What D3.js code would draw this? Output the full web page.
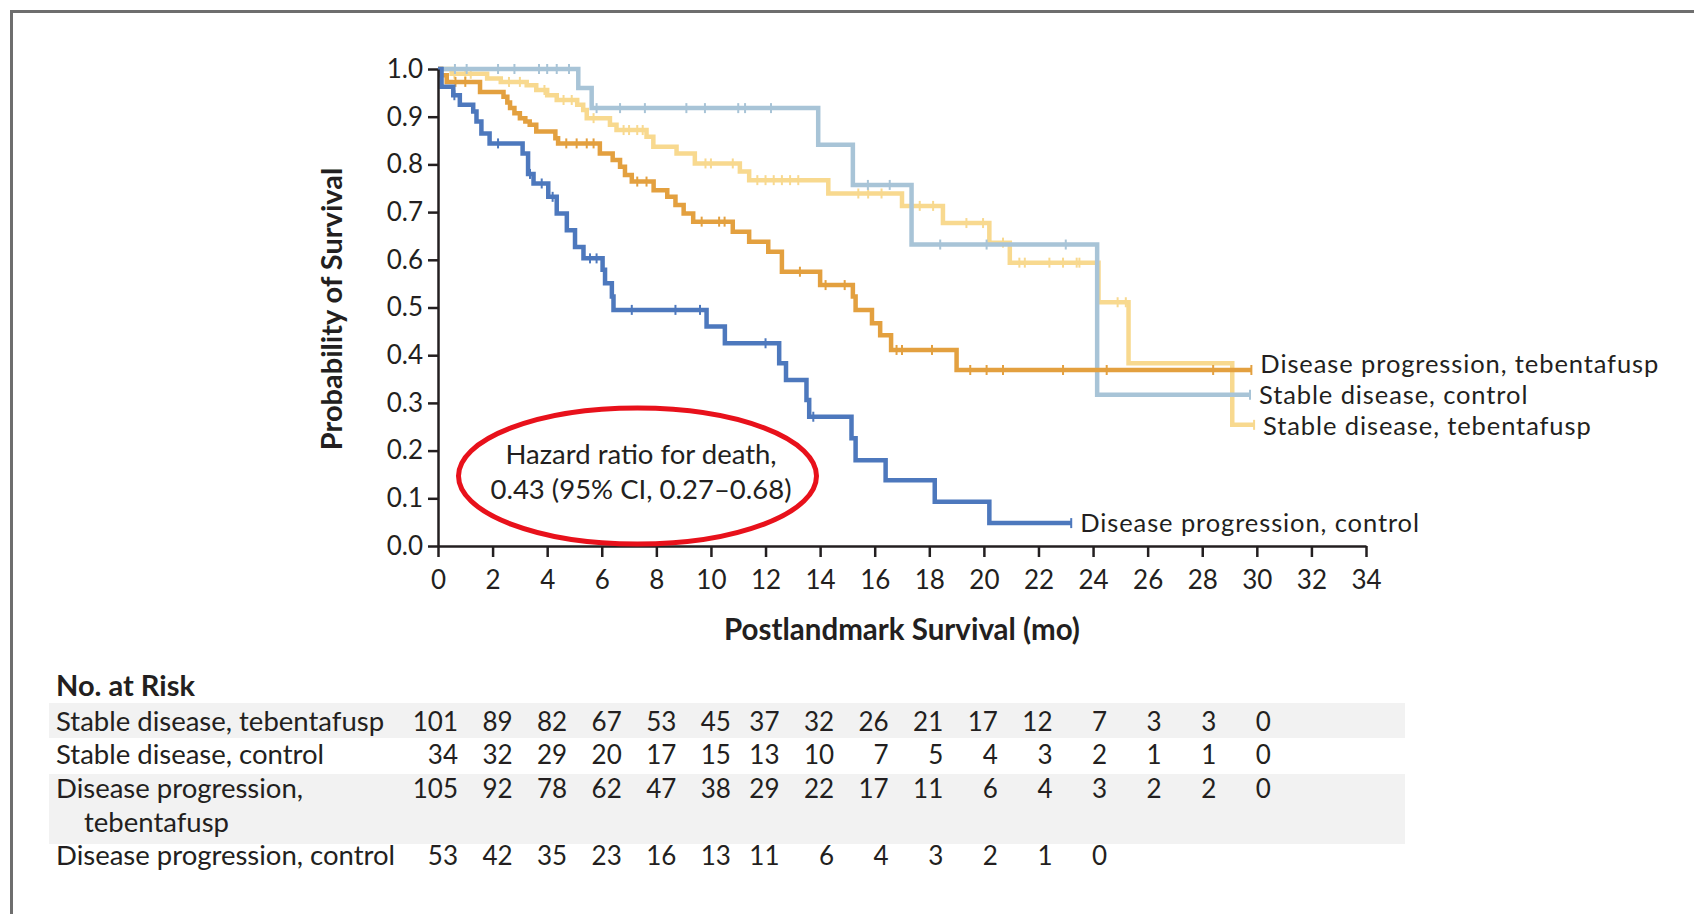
<!DOCTYPE html>
<html>
<head>
<meta charset="utf-8">
<script src="https://cdn.jsdelivr.net/npm/d3@7"></script>
<style>
  body { margin: 0; background: #fff; }
  svg text { font-family: Lato, "Open Sans", sans-serif; fill: #231f20; }
</style>
</head>
<body>
<svg id="chart" width="1694" height="914"></svg>
<script>
// ! Data
// step times (mo) and survival after each step, plus last follow-up and censor times
var sdTebTimes = [0, 0.5, 1.8, 2.3, 3.25, 3.6, 4.0, 4.35, 5.1, 5.32, 5.45, 6.3, 6.54, 7.64, 7.89, 8.74, 9.41, 11.06, 11.4, 14.3, 17.0, 18.5, 20.2, 20.95, 24.2, 25.3, 29.1];
var sdTebSurv  = [1.0, 0.99, 0.98, 0.973, 0.966, 0.956, 0.945, 0.935, 0.925, 0.914, 0.897, 0.883, 0.872, 0.858, 0.837, 0.823, 0.802, 0.785, 0.767, 0.739, 0.713, 0.677, 0.636, 0.594, 0.511, 0.383, 0.254];
var sdTebEnd = 29.9;
var sdTebCensor = [0.6, 1.0, 1.2, 2.6, 3.0, 3.9, 4.6, 4.9, 5.7, 6.8, 7.0, 7.3, 7.5, 9.8, 10.0, 10.8, 11.7, 12.0, 12.3, 12.6, 12.9, 13.2, 15.4, 15.76, 16.25, 17.65, 18.14, 19.36, 19.97, 20.7, 21.3, 21.5, 22.4, 22.9, 23.4, 23.5, 24.9, 25.2, 29.9];

var sdCtlTimes = [0, 5.14, 5.63, 13.93, 15.2, 17.35, 24.15];
var sdCtlSurv  = [1.0, 0.96, 0.918, 0.841, 0.757, 0.632, 0.317];
var sdCtlEnd = 29.75;
var sdCtlCensor = [0.62, 1.05, 2.2, 2.8, 3.7, 4.0, 4.35, 4.8, 5.81, 6.67, 7.58, 9.1, 9.78, 11.0, 11.25, 12.2, 15.75, 16.55, 18.4, 20.1, 23.0, 29.75];

var dpTebTimes = [0, 0.1, 0.32, 1.54, 2.4, 2.54, 2.64, 2.8, 3.0, 3.2, 3.36, 3.6, 4.3, 4.4, 5.93, 6.4, 6.67, 6.85, 7.1, 7.9, 8.4, 8.7, 9.0, 9.35, 10.8, 11.4, 12.1, 12.6, 14.0, 15.2, 15.3, 15.9, 16.2, 16.6, 19.0];
var dpTebSurv  = [1.0, 0.987, 0.973, 0.952, 0.942, 0.93, 0.918, 0.907, 0.897, 0.89, 0.883, 0.869, 0.855, 0.844, 0.823, 0.809, 0.795, 0.778, 0.764, 0.746, 0.732, 0.715, 0.697, 0.68, 0.659, 0.638, 0.617, 0.575, 0.547, 0.523, 0.495, 0.467, 0.442, 0.411, 0.369];
var dpTebEnd = 29.8;
var dpTebCensor = [0.64, 1.0, 4.7, 5.08, 5.45, 5.7, 7.3, 7.64, 9.66, 10.3, 10.5, 13.26, 14.2, 14.9, 16.8, 17.0, 18.1, 19.5, 20.1, 20.7, 22.9, 24.5, 28.4, 29.8];

var dpCtlTimes = [0, 0.13, 0.56, 0.8, 1.29, 1.41, 1.59, 1.89, 3.1, 3.3, 3.5, 4.04, 4.35, 4.72, 5.02, 5.33, 6.03, 6.12, 6.37, 6.43, 9.84, 10.51, 12.5, 12.75, 13.5, 13.6, 15.15, 15.3, 16.4, 18.2, 20.2];
var dpCtlSurv  = [1.0, 0.963, 0.945, 0.925, 0.911, 0.89, 0.865, 0.844, 0.823, 0.78, 0.76, 0.732, 0.697, 0.662, 0.627, 0.603, 0.579, 0.551, 0.523, 0.495, 0.46, 0.425, 0.383, 0.348, 0.306, 0.271, 0.226, 0.18, 0.138, 0.093, 0.048];
var dpCtlEnd = 23.2;
var dpCtlCensor = [0.6, 2.2, 3.37, 3.8, 4.2, 5.57, 5.81, 7.1, 8.7, 9.6, 12.0, 13.75, 23.2];

var groupNames = ["Stable disease, tebentafusp", "Stable disease, control", "Disease progression, tebentafusp", "Disease progression, control"];
var groupColors = ["#f8d98f", "#a8c4d7", "#e3a03f", "#4d78bd"];

// ! No. at risk table
var riskTimes = [0, 2, 4, 6, 8, 10, 12, 14, 16, 18, 20, 22, 24, 26, 28, 30];
var riskSdTeb = [101, 89, 82, 67, 53, 45, 37, 32, 26, 21, 17, 12, 7, 3, 3, 0];
var riskSdCtl = [34, 32, 29, 20, 17, 15, 13, 10, 7, 5, 4, 3, 2, 1, 1, 0];
var riskDpTeb = [105, 92, 78, 62, 47, 38, 29, 22, 17, 11, 6, 4, 3, 2, 2, 0];
var riskDpCtl = [53, 42, 35, 23, 16, 13, 11, 6, 4, 3, 2, 1, 0];

var xTicks = d3.range(0, 35, 2);
var yTicks = d3.range(0, 11).map(function(i) { return i / 10; });

// ! Layout
var svg = d3.select("#chart");

// frame
svg.append("path")
  .attr("d", "M11.5,914 V11.5 H1694")
  .attr("fill", "none")
  .attr("stroke", "#6e6e6e")
  .attr("stroke-width", 3);

var x = d3.scaleLinear().domain([0, 34]).range([438, 1366]);
var y = d3.scaleLinear().domain([0, 1]).range([546, 69]);

var curves = [
  { times: sdTebTimes, surv: sdTebSurv, end: sdTebEnd, censor: sdTebCensor },
  { times: sdCtlTimes, surv: sdCtlSurv, end: sdCtlEnd, censor: sdCtlCensor },
  { times: dpTebTimes, surv: dpTebSurv, end: dpTebEnd, censor: dpTebCensor },
  { times: dpCtlTimes, surv: dpCtlSurv, end: dpCtlEnd, censor: dpCtlCensor }
];

function survAt(c, t) {
  var s = c.surv[0];
  for (var i = 0; i < c.times.length; i++) {
    if (c.times[i] <= t) s = c.surv[i];
  }
  return s;
}

var stepLine = d3.line()
  .x(function(d) { return x(d[0]); })
  .y(function(d) { return y(d[1]); })
  .curve(d3.curveStepAfter);

curves.forEach(function(c, k) {
  var pts = c.times.map(function(t, i) { return [t, c.surv[i]]; });
  pts.push([c.end, c.surv[c.surv.length - 1]]);
  svg.append("path")
    .attr("d", stepLine(pts))
    .attr("fill", "none")
    .attr("stroke", groupColors[k])
    .attr("stroke-width", 4.5)
    .attr("stroke-linejoin", "miter");

  svg.selectAll(null)
    .data(c.censor)
    .enter()
    .append("line")
    .attr("x1", function(t) { return x(t); })
    .attr("x2", function(t) { return x(t); })
    .attr("y1", function(t) { return y(survAt(c, t)) - 5; })
    .attr("y2", function(t) { return y(survAt(c, t)) + 5; })
    .attr("stroke", groupColors[k])
    .attr("stroke-width", 2);
});

// axes
var yAxis = svg.append("g")
  .attr("transform", "translate(438,0)")
  .call(d3.axisLeft(y).tickValues(yTicks).tickFormat(d3.format(".1f")).tickSize(10).tickSizeOuter(0).tickPadding(5));

var xAxis = svg.append("g")
  .attr("transform", "translate(0,546)")
  .call(d3.axisBottom(x).tickValues(xTicks).tickSize(11).tickSizeOuter(0).tickPadding(14));

[yAxis, xAxis].forEach(function(a) {
  a.selectAll("path, line").attr("stroke", "#231f20").attr("stroke-width", 2.5);
  a.selectAll("text").style("font-size", "26px").style("font-family", "Lato").attr("fill", "#231f20");
});

svg.append("text")
  .attr("transform", "translate(342,309) rotate(-90)")
  .attr("text-anchor", "middle")
  .style("font-size", "29px")
  .style("font-weight", "bold")
  .text("Probability of Survival");

svg.append("text")
  .attr("x", 902)
  .attr("y", 640)
  .attr("text-anchor", "middle")
  .style("font-size", "29.5px")
  .style("font-weight", "bold")
  .text("Postlandmark Survival (mo)");

// curve labels
var labelY = [435, 404, 373, 532];
curves.forEach(function(c, k) {
  svg.append("text")
    .attr("x", x(c.end) + 9)
    .attr("y", labelY[k])
    .style("font-size", "25.5px")
    .style("letter-spacing", "0.9px")
    .text(groupNames[k]);
});

// hazard ratio with red ellipse
svg.append("ellipse")
  .attr("cx", 637.5)
  .attr("cy", 476)
  .attr("rx", 179)
  .attr("ry", 68)
  .attr("fill", "none")
  .attr("stroke", "#e8111b")
  .attr("stroke-width", 5);

svg.append("text")
  .attr("x", 641).attr("y", 464)
  .attr("text-anchor", "middle")
  .style("font-size", "27.5px")
  .text("Hazard ratio for death,");
svg.append("text")
  .attr("x", 641).attr("y", 499)
  .attr("text-anchor", "middle")
  .style("font-size", "27.5px")
  .text("0.43 (95% CI, 0.27\u20130.68)");

// ! No. at Risk
svg.append("text")
  .attr("x", 56).attr("y", 696)
  .style("font-size", "29px")
  .style("font-weight", "bold")
  .text("No. at Risk");

svg.append("rect").attr("x", 49).attr("y", 703).attr("width", 1356).attr("height", 35).attr("fill", "#f2f2f2");
svg.append("rect").attr("x", 49).attr("y", 774).attr("width", 1356).attr("height", 70).attr("fill", "#f2f2f2");

var rows = [
  { lines: ["Stable disease, tebentafusp"], values: riskSdTeb, y: 731 },
  { lines: ["Stable disease, control"], values: riskSdCtl, y: 764 },
  { lines: ["Disease progression,", "tebentafusp"], values: riskDpTeb, y: 798 },
  { lines: ["Disease progression, control"], values: riskDpCtl, y: 865 }
];

rows.forEach(function(r) {
  r.lines.forEach(function(l, i) {
    svg.append("text")
      .attr("x", i === 0 ? 56 : 84)
      .attr("y", r.y + i * 34)
      .style("font-size", "27.5px")
      .text(l);
  });
  svg.selectAll(null)
    .data(r.values)
    .enter()
    .append("text")
    .attr("x", function(v, i) { return x(riskTimes[i]) + (riskTimes[i] <= 10 ? 20 : 14); })
    .attr("y", r.y)
    .attr("text-anchor", "end")
    .style("font-size", "26px")
    .text(function(v) { return v; });
});
</script>
</body>
</html>
